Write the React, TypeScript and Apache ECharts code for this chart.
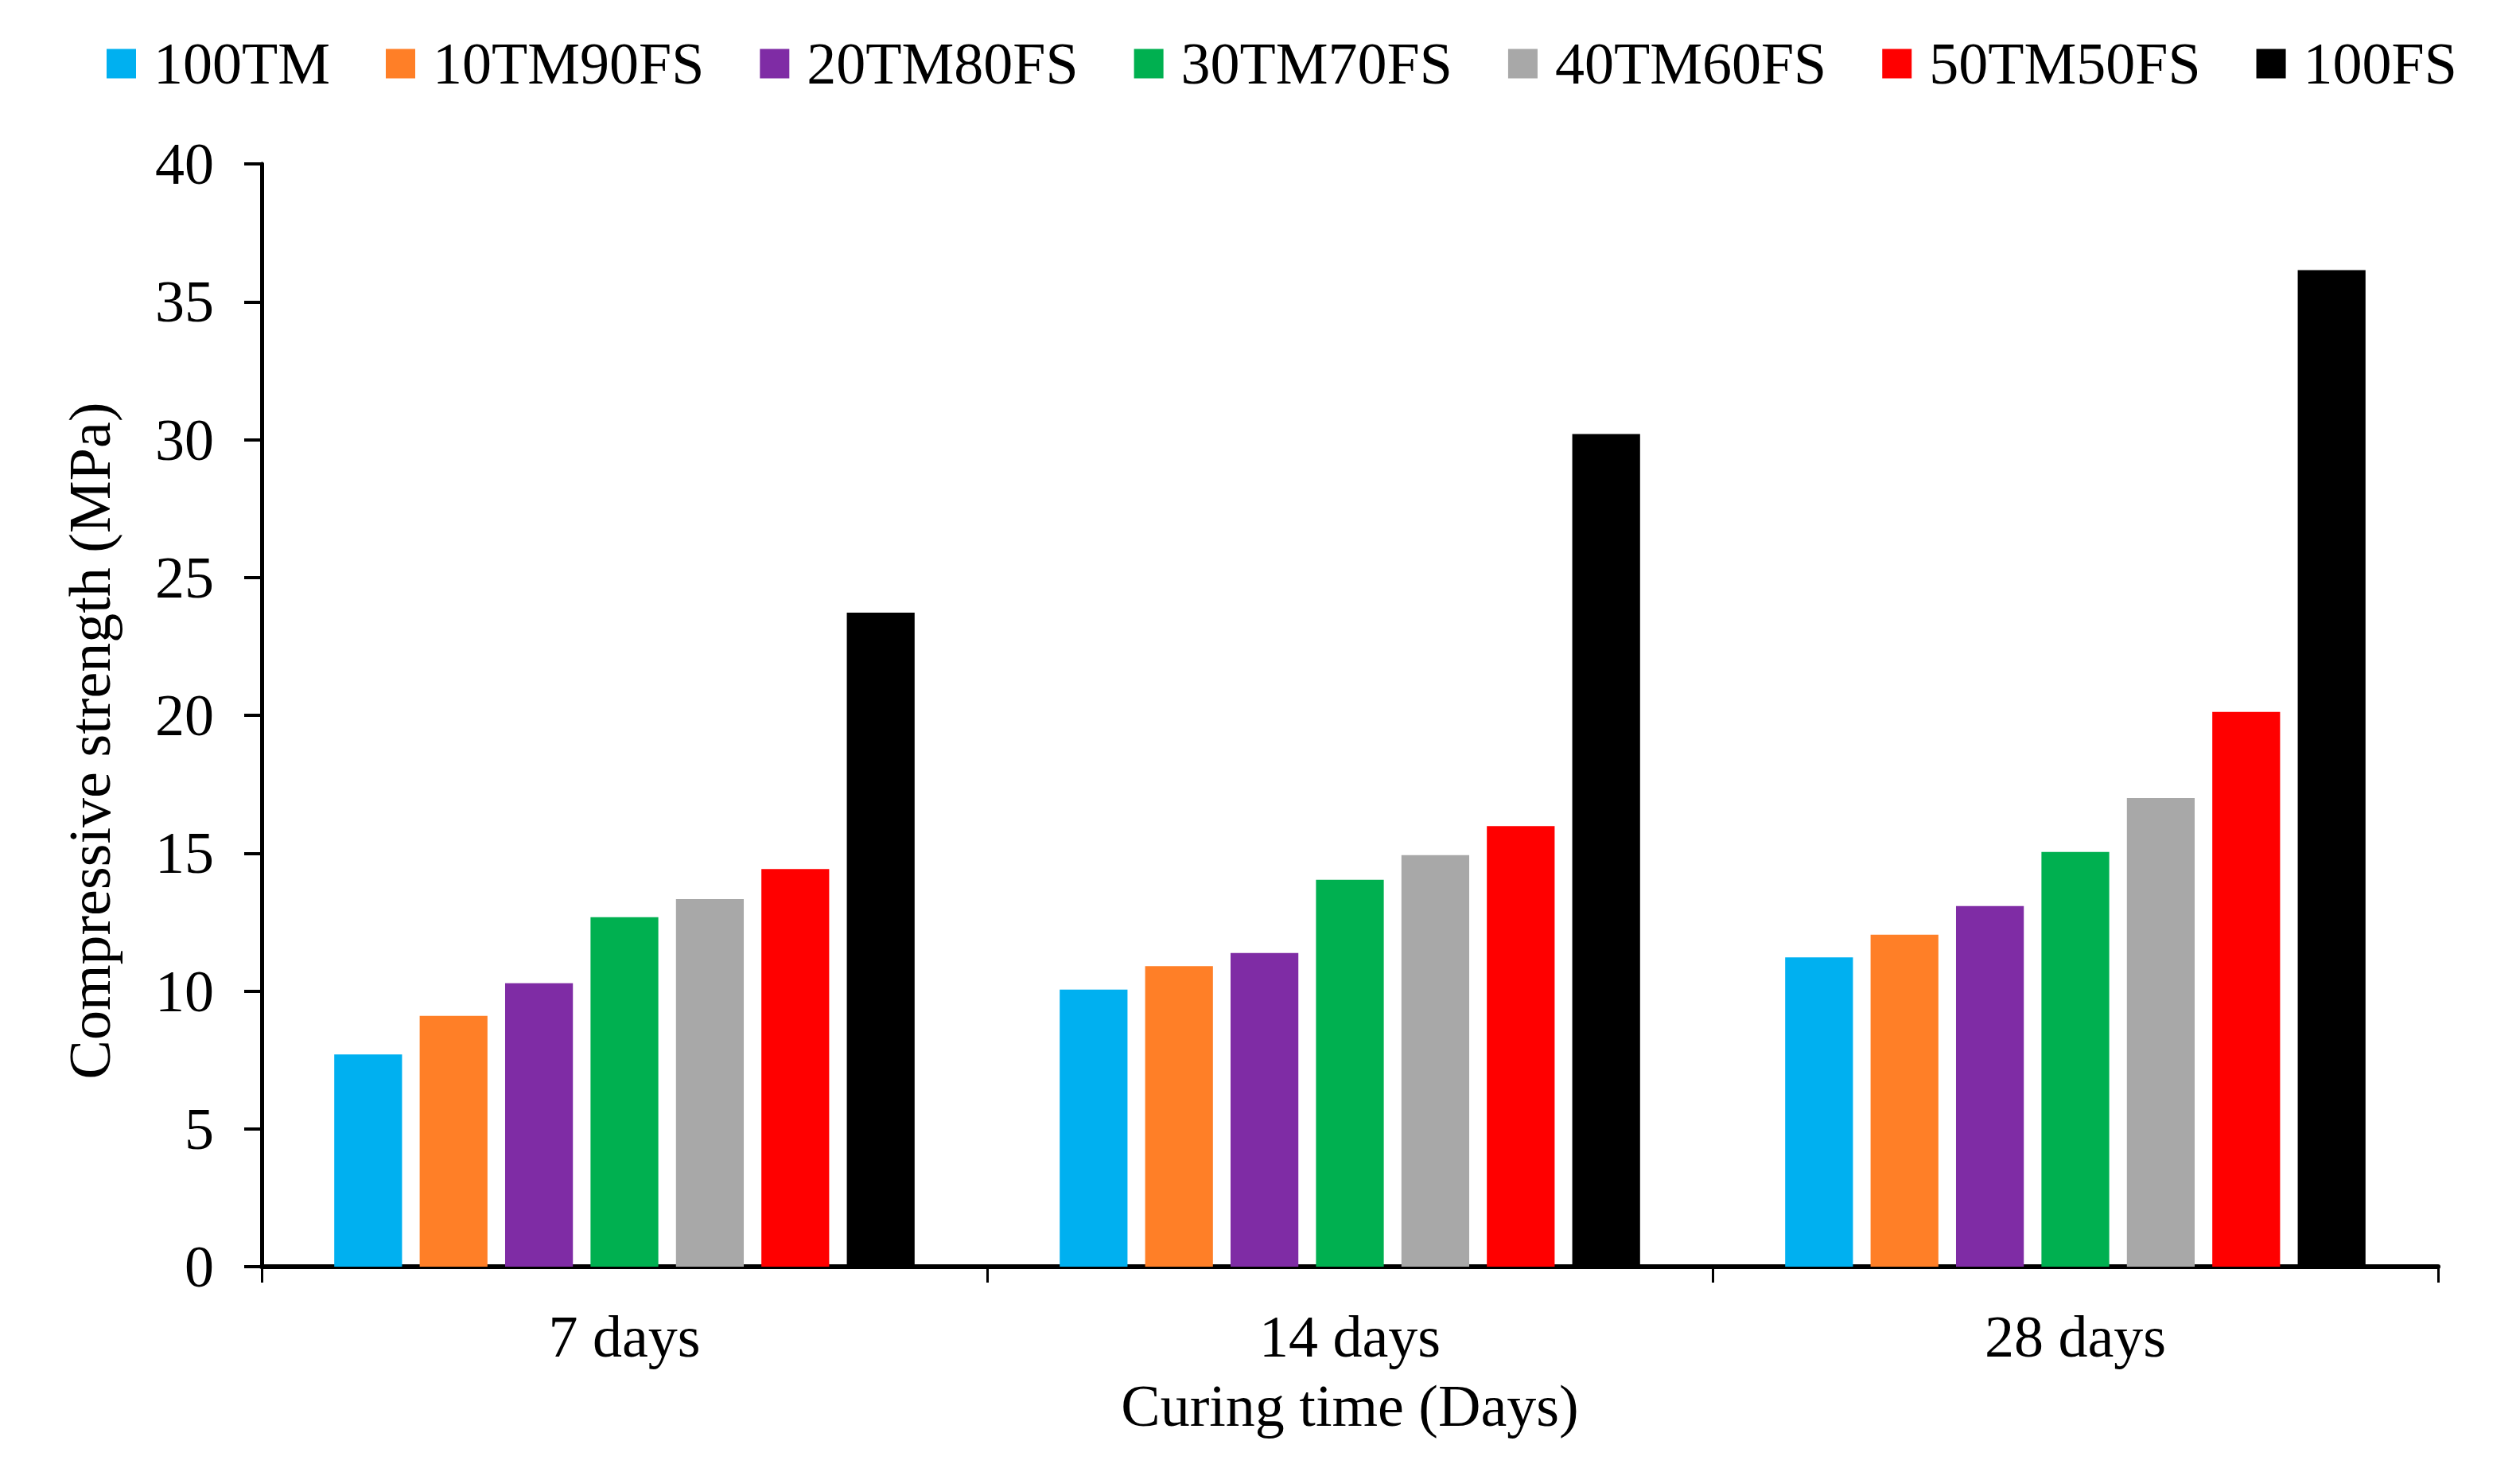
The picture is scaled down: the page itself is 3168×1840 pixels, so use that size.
import React, { useEffect, useRef } from "react";
import * as echarts from "echarts";

const categories = ["7 days", "14 days", "28 days"];
const seriesNames = ["100TM", "10TM90FS", "20TM80FS", "30TM70FS", "40TM60FS", "50TM50FS", "100FS"];
const s100TM = [7.7, 10.05, 11.22];
const s10TM90FS = [9.1, 10.9, 12.04];
const s20TM80FS = [10.28, 11.38, 13.08];
const s30TM70FS = [12.68, 14.03, 15.04];
const s40TM60FS = [13.33, 14.93, 17.0];
const s50TM50FS = [14.42, 15.98, 20.12];
const s100FS = [23.72, 30.2, 36.15];
const seriesValues = [s100TM, s10TM90FS, s20TM80FS, s30TM70FS, s40TM60FS, s50TM50FS, s100FS];
const colors = ["#00B0F0", "#FF7F27", "#7F2CA5", "#00B050", "#A8A8A8", "#FF0000", "#000000"];
const yTicks = { min: 0, max: 40, interval: 5 };

const FONT = "'Liberation Serif', 'Times New Roman', serif";
const FS = 74;

export default function App() {
  const ref = useRef<HTMLDivElement>(null);
  useEffect(() => {
    document.body.style.margin = "0";
    document.body.style.overflow = "hidden";
    if (!ref.current) return;
    const chart = echarts.init(ref.current, undefined, { renderer: "svg" });
    chart.setOption({
      animation: false,
      backgroundColor: "#ffffff",
      textStyle: { fontFamily: FONT, color: "#000" },
      legend: {
        left: 129,
        top: 38,
        itemWidth: 37,
        itemHeight: 37,
        itemGap: 70,
        icon: "rect",
        data: seriesNames,
        textStyle: { fontFamily: FONT, fontSize: FS, color: "#000", padding: [0, 0, 0, 17] },
      },
      grid: { left: 329, right: 103, top: 206, bottom: 248, containLabel: false },
      xAxis: {
        type: "category",
        data: categories,
        name: "Curing time (Days)",
        nameLocation: "middle",
        nameGap: 138,
        nameTextStyle: { fontFamily: FONT, fontSize: FS, color: "#000" },
        axisLine: { lineStyle: { color: "#000", width: 6 } },
        axisTick: { show: true, length: 20, lineStyle: { color: "#000", width: 3 } },
        axisLabel: { fontFamily: FONT, fontSize: FS, color: "#000", margin: 51 },
        splitLine: { show: false },
      },
      yAxis: {
        type: "value",
        min: yTicks.min,
        max: yTicks.max,
        interval: yTicks.interval,
        name: "Compressive strength (MPa)",
        nameLocation: "middle",
        nameGap: 179,
        nameTextStyle: { fontFamily: FONT, fontSize: FS, color: "#000", padding: [0, 64, 0, 0] },
        axisLine: { show: true, lineStyle: { color: "#000", width: 5 } },
        axisTick: { show: true, length: 22, lineStyle: { color: "#000", width: 4 } },
        axisLabel: { fontFamily: FONT, fontSize: FS, color: "#000", margin: 60 },
        splitLine: { show: false },
      },
      series: seriesNames.map((name, i) => ({
        name,
        type: "bar",
        data: seriesValues[i],
        itemStyle: { color: colors[i] },
        barCategoryGap: "20%",
        barGap: "26%",
      })),
    });
    return () => chart.dispose();
  }, []);
  return (
    <div
      ref={ref}
      style={{ position: "absolute", left: 0, top: 0, width: 3168, height: 1840 }}
    />
  );
}
